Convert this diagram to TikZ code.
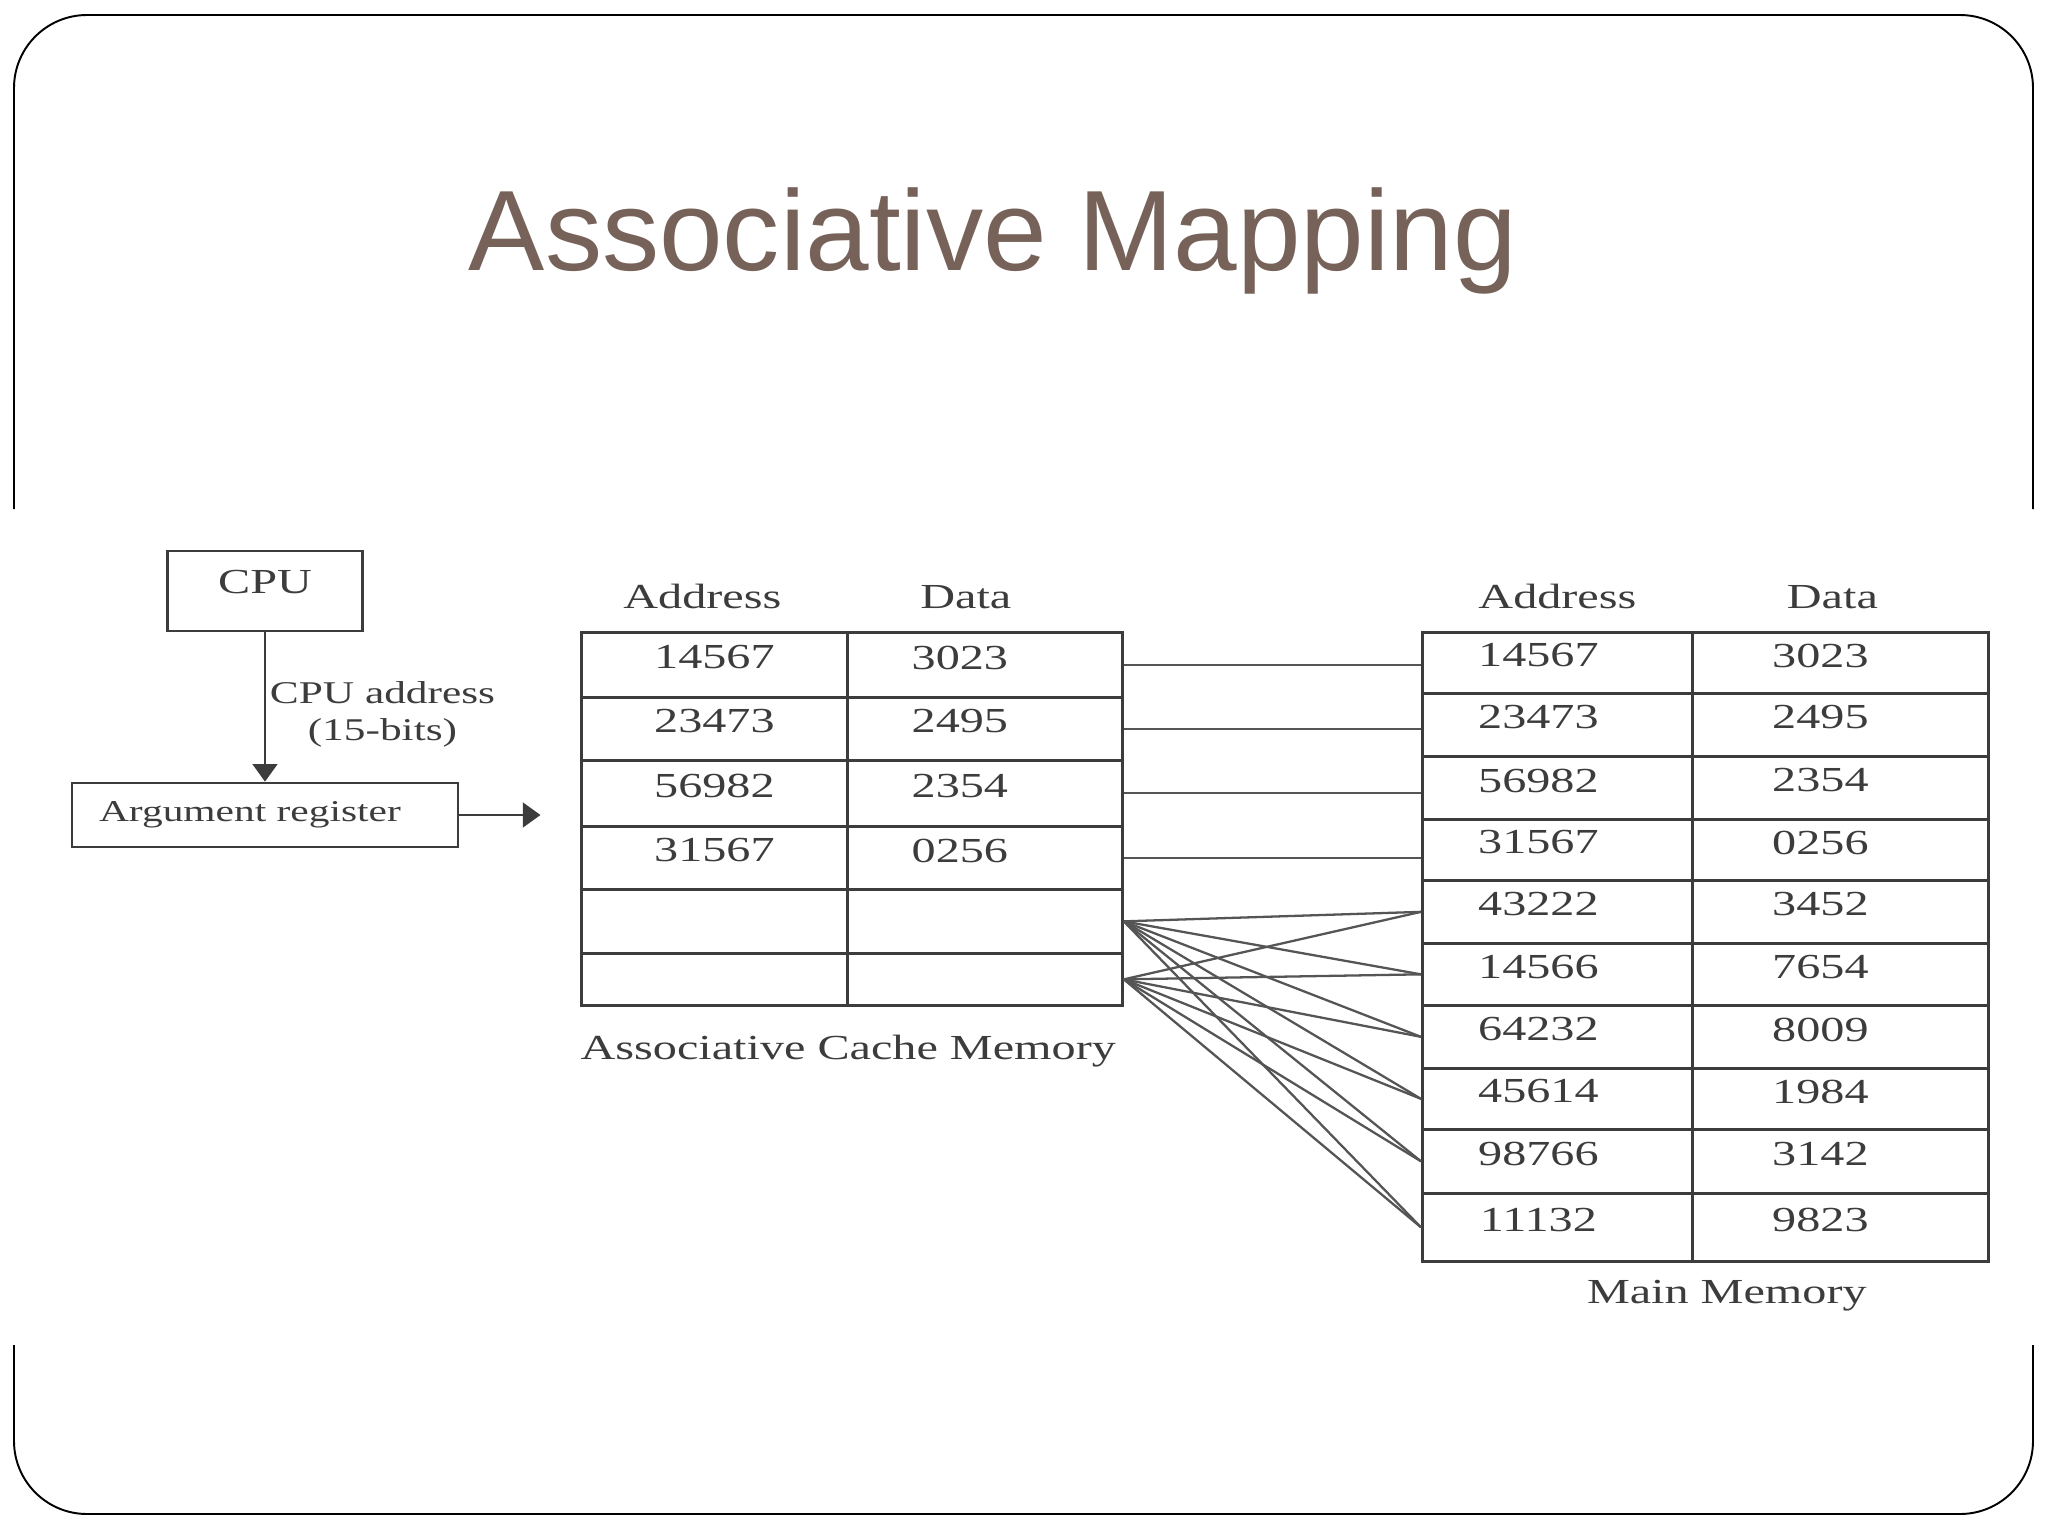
\documentclass[tikz,border=0pt]{standalone}
\usepackage{fontspec}
\newfontfamily\titlefont{Liberation Sans}
\newfontfamily\diagfont{Liberation Serif}[FakeStretch=1.37]
\usetikzlibrary{positioning,arrows.meta}
\definecolor{titlebrown}{RGB}{118,98,89}
\definecolor{ink}{RGB}{60,60,60}
\definecolor{wiregray}{RGB}{85,85,85}

\begin{document}
\begin{tikzpicture}[x=0.01cm, y=-0.01cm, >={Triangle[length=5pt,width=7pt]},
  tabcell/.style={draw=ink, line width=0.75pt, inner sep=0pt, text depth=0.15cm, anchor=north west, text=ink, font=\diagfont\fontsize{10pt}{12pt}\selectfont},
  membox/.style={draw=ink, line width=0.75pt, inner sep=0pt, text=ink, font=\diagfont\fontsize{10pt}{12pt}\selectfont},
  colhead/.style={inner sep=0pt, text=ink, font=\diagfont\fontsize{10pt}{12pt}\selectfont},
  smalltxt/.style={inner sep=1pt, align=center, text=ink, font=\diagfont\fontsize{9pt}{10.5pt}\selectfont},
  maplink/.style={draw=wiregray, line width=0.65pt}]
\useasboundingbox (0,0) rectangle (2048,1536);
\draw[line width=0.55pt, rounded corners=0.73cm] (14,509) |- (2033,15) -- (2033,509);
\draw[line width=0.55pt, rounded corners=0.73cm] (14,1345) |- (2033,1514) -- (2033,1345);

\node[font=\titlefont\fontsize{32.5pt}{36pt}\selectfont, text=titlebrown, anchor=base] (title) at (993,270) {Associative Mapping};

\node[membox, minimum width=1.95cm, minimum height=0.8cm, text depth=0.18cm] (cpu) at (265,591) {CPU};
\node[membox, minimum width=3.86cm, minimum height=0.64cm, font=\diagfont\fontsize{8.6pt}{10pt}\selectfont] (arg) at (265,815) {Argument register\hspace*{0.3cm}};
\draw[->, draw=ink, fill=ink, line width=0.75pt] (cpu) -- node[smalltxt, right, yshift=-0.07cm] (cpuaddr) {CPU address\\(15-bits)} (arg);
\coordinate[right=0.81cm of arg.east] (argend);
\draw[->, draw=ink, fill=ink, line width=0.75pt] (arg) -- (argend);

\foreach \i/\top/\h/\ad/\da in {1/631/0.65cm/14567/3023, 2/696/0.63cm/23473/2495, 3/759/0.66cm/56982/2354, 4/825/0.63cm/31567/0256, 5/888/0.64cm/{}/{}, 6/952/0.52cm/{}/{}}
{
    \node[tabcell, minimum width=2.66cm, minimum height=\h] (ca\i) at (580,\top) {\ad};
    \node[tabcell, minimum width=2.75cm, minimum height=\h] (cd\i) at (846,\top) {\da\hspace*{0.5cm}};
}
\foreach \i/\top/\h/\ad/\da in {1/631/0.61cm/14567/3023, 2/692/0.63cm/23473/2495, 3/755/0.63cm/56982/2354, 4/818/0.61cm/31567/0256, 5/879/0.63cm/43222/3452, 6/942/0.62cm/14566/7654, 7/1004/0.63cm/64232/8009, 8/1067/0.61cm/45614/1984, 9/1128/0.64cm/98766/3142, 10/1192/0.68cm/11132/9823}
{
    \node[tabcell, minimum width=2.70cm, minimum height=\h] (ma\i) at (1421,\top) {\ad\hspace*{0.38cm}};
    \node[tabcell, minimum width=2.96cm, minimum height=\h] (md\i) at (1691,\top) {\da\hspace*{0.4cm}};
}

\node[colhead, above=0.21cm of ca1.north, xshift=-0.12cm] (cahead) {Address};
\node[colhead, above=0.21cm of cd1.north, xshift=-0.19cm] (cdhead) {Data};
\node[colhead, above=0.21cm of ma1.north] (mahead) {Address};
\node[colhead, above=0.21cm of md1.north, xshift=-0.08cm] (mdhead) {Data};
\node[colhead, below right=0.28cm and 0cm of ca6.south west] (cachelbl) {Associative Cache Memory};
\node[colhead, below=0.17cm of ma10.south east, xshift=0.33cm] (mainlbl) {Main Memory};

\foreach \i in {1,...,4}
    \draw[maplink] (cd\i.east) -- (cd\i.east -| ma\i.west);
\foreach \c in {5,6}
    \foreach \m in {5,...,10}
        \draw[maplink] (cd\c.east) -- (ma\m.west);

\end{tikzpicture}
\end{document}
